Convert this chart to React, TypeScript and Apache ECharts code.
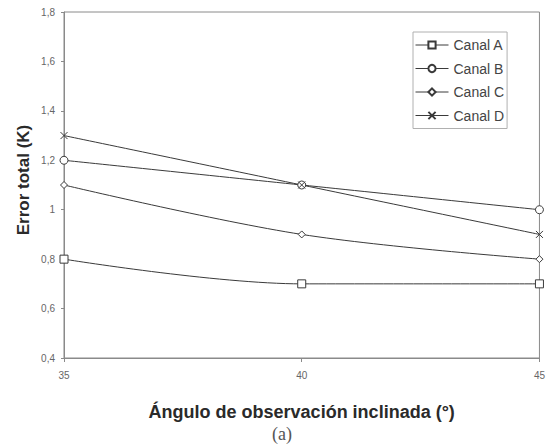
import React, { useEffect, useRef } from "react";
import * as echarts from "echarts";

const angles = [35, 40, 45];
const canalA = [0.8, 0.7, 0.7];
const canalB = [1.2, 1.1, 1.0];
const canalC = [1.1, 0.9, 0.8];
const canalD = [1.3, 1.1, 0.9];
const seriesNames = ["Canal A", "Canal B", "Canal C", "Canal D"];
const yTitle = "Error total (K)";
const xTitle = "Ángulo de observación inclinada (°)";
const caption = "(a)";

const FONT = "'Liberation Sans', Arial, sans-serif";
const LINE = "#3a3a3a";
const AXIS = "#8a8a8a";

export default function App() {
  const ref = useRef<HTMLDivElement>(null);
  useEffect(() => {
    if (!ref.current) return;
    const chart = echarts.init(ref.current, null, { renderer: "svg" });
    const mk = (vals: number[]) => angles.map((a, i) => [a, vals[i]]);
    const symbols = ["rect", "circle", "diamond", "path://M0,0L10,10M10,0L0,10"];
    const sizes = [8, 8, 7, 7];
    const datas = [canalA, canalB, canalC, canalD];
    chart.setOption({
      animation: false,
      backgroundColor: "#ffffff",
      textStyle: { fontFamily: FONT },
      grid: {
        left: 64,
        right: 8,
        top: 12,
        bottom: 88,
        show: true,
        borderColor: AXIS,
        borderWidth: 1,
      },
      legend: {
        orient: "vertical",
        left: 413,
        top: 32,
        padding: [6, 3, 6, 2],
        itemGap: 9.5,
        itemWidth: 33,
        itemHeight: 9,
        borderColor: "#b0b0b0",
        borderWidth: 1,
        backgroundColor: "#ffffff",
        lineStyle: { width: 1 },
        textStyle: { fontFamily: FONT, fontSize: 14, color: "#444" },
        data: seriesNames,
      },
      xAxis: {
        type: "value",
        min: 35,
        max: 45,
        interval: 5,
        name: xTitle,
        nameLocation: "middle",
        nameGap: 45,
        nameTextStyle: { fontFamily: FONT, fontSize: 18, fontWeight: "bold", color: "#2a2a2a" },
        axisLine: { lineStyle: { color: AXIS } },
        axisTick: { show: true, length: 4, lineStyle: { color: AXIS } },
        axisLabel: { fontFamily: FONT, fontSize: 10, color: "#666", margin: 12 },
        splitLine: { show: false },
      },
      yAxis: {
        type: "value",
        min: 0.4,
        max: 1.8,
        interval: 0.2,
        axisLine: { show: true, lineStyle: { color: AXIS } },
        axisTick: { show: true, length: 3, lineStyle: { color: AXIS } },
        axisLabel: {
          fontFamily: FONT,
          fontSize: 10,
          color: "#666",
          margin: 9,
          formatter: (v: number) => String(Math.round(v * 10) / 10).replace(".", ","),
        },
        splitLine: { show: false },
      },
      graphic: [
        {
          type: "text",
          x: 23,
          y: 180,
          rotation: Math.PI / 2,
          style: {
            text: yTitle,
            font: "bold 17px 'Liberation Sans', Arial, sans-serif",
            fill: "#2a2a2a",
            textAlign: "center",
            textVerticalAlign: "middle",
          },
        },
        {
          type: "text",
          x: 282,
          y: 434,
          style: {
            text: caption,
            font: "18px 'Liberation Serif', 'Times New Roman', serif",
            fill: "#555",
            textAlign: "center",
            textVerticalAlign: "middle",
          },
        },
      ],
      series: seriesNames.map((name, i) => ({
        name,
        type: "line",
        data: mk(datas[i]),
        smooth: 0.35,
        symbol: symbols[i],
        symbolSize: sizes[i],
        showSymbol: true,
        lineStyle: { color: LINE, width: 1 },
        itemStyle: { color: "#ffffff", borderColor: LINE, borderWidth: 1 },
        z: 2,
      })),
    });
    return () => chart.dispose();
  }, []);
  return (
    <div
      ref={ref}
      style={{ position: "fixed", left: 0, top: 0, width: 548, height: 446, background: "#fff" }}
    />
  );
}
